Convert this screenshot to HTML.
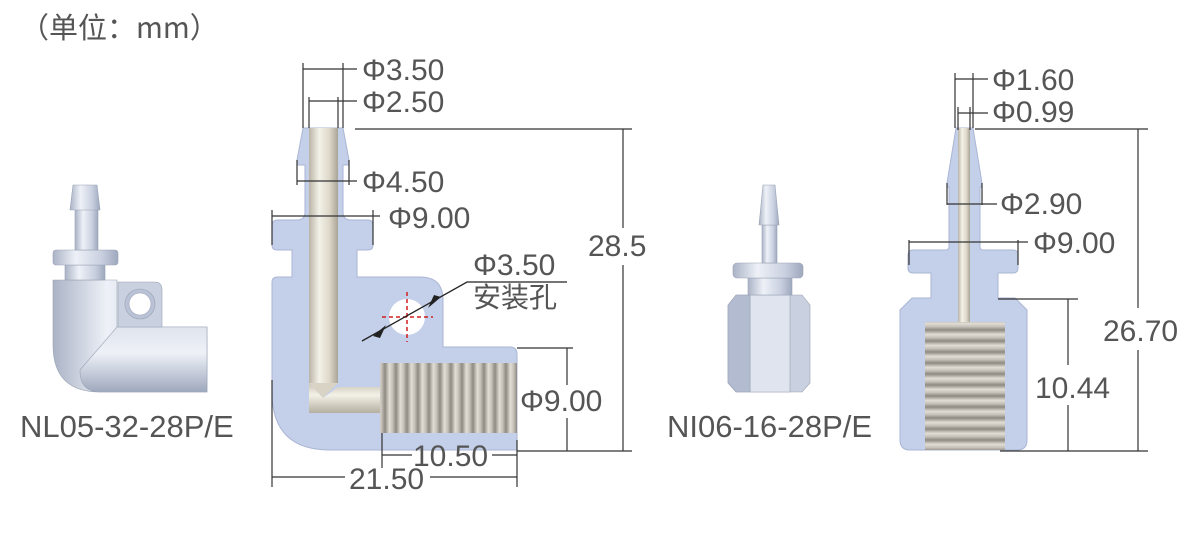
<!DOCTYPE html>
<html><head><meta charset="utf-8"><style>
html,body{margin:0;padding:0;background:#fff;}
svg{display:block;}
text{font-family:"Liberation Sans","Noto Sans CJK SC",sans-serif;fill:#555;}
</style></head><body>
<svg width="1200" height="533" viewBox="0 0 1200 533" xmlns="http://www.w3.org/2000/svg">
<defs>
<linearGradient id="bore" x1="0" x2="1" y1="0" y2="0">
<stop offset="0" stop-color="#b9b4a6"/><stop offset="0.35" stop-color="#f4f1e8"/><stop offset="0.7" stop-color="#ddd8ca"/><stop offset="1" stop-color="#a9a496"/></linearGradient>
<linearGradient id="boreH" x1="0" x2="0" y1="0" y2="1">
<stop offset="0" stop-color="#c9c4b6"/><stop offset="0.4" stop-color="#f4f1e8"/><stop offset="1" stop-color="#b4afa0"/></linearGradient>
<linearGradient id="thrV" x1="0" x2="11" y1="0" y2="0" gradientUnits="userSpaceOnUse" spreadMethod="repeat">
<stop offset="0" stop-color="#8e8a82"/><stop offset="0.4" stop-color="#e2ded6"/><stop offset="0.7" stop-color="#c4c0b8"/><stop offset="1" stop-color="#8e8a82"/></linearGradient>
<linearGradient id="thrH" x1="0" x2="0" y1="0" y2="11" gradientUnits="userSpaceOnUse" spreadMethod="repeat">
<stop offset="0" stop-color="#8e8a82"/><stop offset="0.4" stop-color="#e2ded6"/><stop offset="0.7" stop-color="#c4c0b8"/><stop offset="1" stop-color="#8e8a82"/></linearGradient>
<linearGradient id="cyl" x1="0" x2="1" y1="0" y2="0">
<stop offset="0" stop-color="#aab3c6"/><stop offset="0.35" stop-color="#eef1f7"/><stop offset="0.75" stop-color="#c8cfdf"/><stop offset="1" stop-color="#9ea8bd"/></linearGradient>
<linearGradient id="cylH" x1="0" x2="0" y1="0" y2="1">
<stop offset="0" stop-color="#dfe4ee"/><stop offset="0.4" stop-color="#eef1f7"/><stop offset="1" stop-color="#9ea8bd"/></linearGradient>
</defs>

<text x="20" y="38" font-size="29" style="font-family:'Noto Sans CJK SC',sans-serif">（单位：mm）</text>

<!-- Left 3D elbow -->
<g stroke="#9aa3b5" stroke-width="0.6">
<path d="M53 280 H117 V327 H207 V392 H100 Q53 392 53 345 Z" fill="url(#cyl)"/>
<path d="M117 327 H207 V392 H100 Q80 392 80 370 L117 327Z" fill="url(#cylH)"/>
<path d="M118 282 H155 Q162 282 162 290 V327 H118 Z" fill="#c9d0df"/>
<circle cx="140" cy="304" r="15" fill="#b9c2d6"/><circle cx="140" cy="304" r="11" fill="#fff"/>
<rect x="65" y="265" width="40" height="15" fill="url(#cyl)"/>
<rect x="53" y="250" width="65" height="15" rx="3" fill="url(#cyl)"/>
<rect x="75" y="208" width="23" height="42" fill="url(#cyl)"/>
<path d="M73 185 H97 L100 210 H70 Z" fill="url(#cyl)"/>
</g>
<text x="20" y="437" font-size="31">NL05-32-28P/E</text>

<!-- Left section drawing -->
<path d="M303 128 H343 L349 160 V165 H343 V212 Q343 220 351 220 H368 Q373 220 373 226 V245 Q373 250 368 250 H357 V277 H420 Q443 277 443 300 V347 H510 Q517 347 517 354 V450 H330 Q272 450 272 392 V282 Q272 277 278 277 H292 V250 H277 Q272 250 272 245 V226 Q272 220 278 220 H297 Q305 220 305 212 V165 H297 V160 Z" fill="#c4cfe9" stroke="#aab6d4" stroke-width="1"/>
<rect x="309" y="128" width="29" height="255" fill="url(#bore)"/>
<path d="M309 383 L323 398 L338 383Z" fill="#d8d3c5"/>
<path d="M309 383 V413 H382 V387 H338 L323 398 Z" fill="url(#boreH)"/>
<rect x="380" y="363" width="137" height="70" fill="url(#thrV)"/>
<circle cx="407" cy="317" r="18" fill="#fff"/>
<g stroke="#d02020" stroke-width="1.5" stroke-dasharray="4,3"><line x1="382" y1="317" x2="433" y2="317"/><line x1="407" y1="292" x2="407" y2="342"/></g>
<g stroke="#222" stroke-width="1.3" fill="none">
<polyline points="362,341 467,282 567,282"/>
</g>
<path d="M373 336 L386 325 L380 338Z" fill="#222"/>
<path d="M441 297 L428 308 L434 295Z" fill="#222"/>
<g stroke="#333" stroke-width="1.2" fill="none">
<path d="M303 63 V128 M343 63 V128 M303 69 H357"/>
<path d="M309 97 V128 M338 97 V128 M309 101 H357"/>
<path d="M297 160 V185 M349 160 V185 M297 181 H357"/>
<path d="M272 210 V245 M373 210 V245 M272 216 H380"/>
<path d="M355 129 H632 M517 451 H632 M623 129 V228 M623 265 V451"/>
<path d="M517 348 H573 M567 348 V385 M567 418 V451"/>
<path d="M382 433 V468 M382 455 H412 M492 455 H517"/>
<path d="M272 380 V487 M517 440 V487 M272 477 H345 M430 477 H517"/>
</g>
<g font-size="30">
<text x="362" y="80">Φ3.50</text>
<text x="362" y="112">Φ2.50</text>
<text x="362" y="192">Φ4.50</text>
<text x="388" y="228">Φ9.00</text>
<text x="473" y="275">Φ3.50</text>
<text x="473" y="307" style="font-family:'Noto Sans CJK SC',sans-serif" font-size="28">安装孔</text>
<text x="588" y="256">28.5</text>
<text x="520" y="411">Φ9.00</text>
<text x="413" y="466">10.50</text>
<text x="349" y="489">21.50</text>
</g>

<!-- Right 3D -->
<g stroke="#9aa3b5" stroke-width="0.6">
<path d="M728 305 L736 295 H802 L810 305 V383 L802 392 H736 L728 383 Z" fill="#c9d0df"/>
<path d="M750 295 H790 V392 H750 Z" fill="#dfe4ee"/>
<path d="M728 305 L736 295 H750 V392 H736 L728 383Z" fill="#b2bbcf"/>
<rect x="748" y="278" width="44" height="17" fill="url(#cyl)"/>
<rect x="733" y="263" width="70" height="15" rx="4" fill="url(#cyl)"/>
<rect x="762" y="225" width="15" height="38" fill="url(#cyl)"/>
<path d="M763 185 H775 L779 225 H759 Z" fill="url(#cyl)"/>
</g>
<text x="667" y="437" font-size="31">NI06-16-28P/E</text>

<!-- Right section drawing -->
<path d="M956 128 H973 L982 183 V187 H980 V247 Q980 250 984 250 H1013 Q1018 250 1018 255 V268 Q1018 273 1013 273 H998 V298 H1015 L1027 310 V440 Q1027 450 1017 450 H910 Q900 450 900 440 V310 L912 298 H931 V273 H913 Q908 273 908 268 V255 Q908 250 913 250 H945 Q949 250 949 247 V187 H947 V183 Z" fill="#c4cfe9" stroke="#aab6d4" stroke-width="1"/>
<rect x="958" y="128" width="12" height="196" fill="url(#bore)"/>
<rect x="925" y="322" width="80" height="128" fill="url(#thrH)"/>
<g stroke="#333" stroke-width="1.2" fill="none">
<path d="M955 73 V128 M973 73 V128 M955 79 H988"/>
<path d="M958 107 V130 M970 107 V130 M958 113 H988"/>
<path d="M947 183 V205 M982 183 V205 M947 204 H997"/>
<path d="M909 240 V265 M1018 240 V265 M909 242 H1028"/>
<path d="M975 129 H1148 M1000 451 H1148 M1138 129 V308 M1138 350 V451"/>
<path d="M998 299 H1078 M1068 299 V365 M1068 405 V451"/>
</g>
<g font-size="30">
<text x="992" y="90">Φ1.60</text>
<text x="992" y="122">Φ0.99</text>
<text x="1000" y="214">Φ2.90</text>
<text x="1033" y="253">Φ9.00</text>
<text x="1103" y="341">26.70</text>
<text x="1035" y="398">10.44</text>
</g>
</svg>
</body></html>
